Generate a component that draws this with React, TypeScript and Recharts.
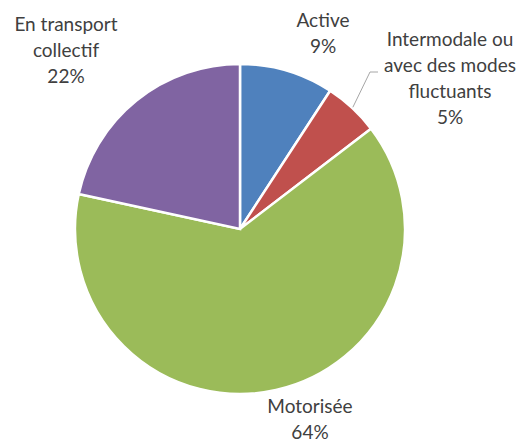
import React from 'react';
import { PieChart, Pie, Cell } from 'recharts';

// Mode de transport (parts en %)
const modes = ['Active', 'Intermodale ou avec des modes fluctuants', 'Motorisée', 'En transport collectif'];
const parts = [9.2, 5.4, 63.8, 21.6];

const COLORS = ['#4F81BD', '#C0504D', '#9BBB59', '#8064A2'];

// label text lines and anchor (x center, first baseline)
const LABEL_LINES = [
  ['Active'],
  ['Intermodale ou', 'avec des modes', 'fluctuants'],
  ['Motorisée'],
  ['En transport', 'collectif'],
];
const LABEL_POS = [
  { x: 323, y: 27 },
  { x: 450, y: 46 },
  { x: 310, y: 413 },
  { x: 66, y: 31 },
];

const data = modes.map((name, i) => ({ name, value: parts[i] }));

const RAD = Math.PI / 180;

const renderLabel = (props: any) => {
  const { cx, cy, midAngle, outerRadius, percent, index } = props;
  const pos = LABEL_POS[index];
  const lines = [...LABEL_LINES[index], `${Math.round(percent * 100)}%`];
  let leader = null;
  if (index === 1) {
    const sx = cx + (outerRadius + 1) * Math.cos(-midAngle * RAD);
    const sy = cy + (outerRadius + 1) * Math.sin(-midAngle * RAD);
    leader = (
      <polyline
        points={`${sx},${sy} ${pos.x - 80},${pos.y + 26} ${pos.x - 72},${pos.y + 26}`}
        fill="none"
        stroke="#A6A6A6"
        strokeWidth={1}
      />
    );
  }
  return (
    <g key={`lbl-${index}`}>
      {leader}
      <text
        x={pos.x}
        y={pos.y}
        textAnchor="middle"
        fill="#404040"
        fontFamily="Lato, 'Noto Sans', sans-serif"
        fontSize={19}
      >
        {lines.map((l, i) => (
          <tspan key={i} x={pos.x} dy={i === 0 ? 0 : 26}>
            {l}
          </tspan>
        ))}
      </text>
    </g>
  );
};

const App = () => {
  return (
    <div style={{ position: 'absolute', left: 0, top: 0, width: 526, height: 444, background: '#fff' }}>
      <PieChart width={526} height={444} margin={{ top: 0, right: 0, bottom: 0, left: 0 }}>
        <Pie
          data={data}
          dataKey="value"
          nameKey="name"
          cx={240}
          cy={229}
          outerRadius={165}
          startAngle={90}
          endAngle={-270}
          stroke="#fff"
          strokeWidth={2.5}
          labelLine={false}
          label={renderLabel}
          isAnimationActive={false}
        >
          {data.map((entry, index) => (
            <Cell key={`cell-${index}`} fill={COLORS[index]} />
          ))}
        </Pie>
      </PieChart>
    </div>
  );
};

export default App;
